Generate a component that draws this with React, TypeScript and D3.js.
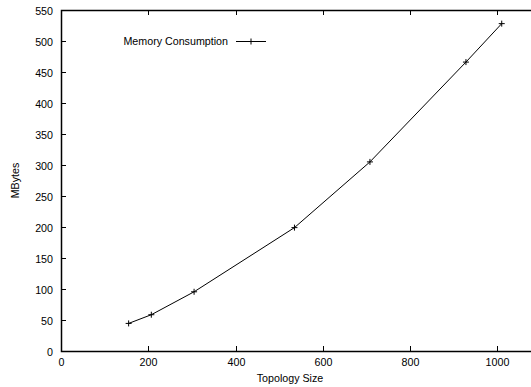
import React, { useEffect, useRef } from 'react';
import * as d3 from 'd3';

// data
const topologySizes = [155, 207, 305, 535, 708, 928, 1010];
const memoryMBytes = [44.5, 58.5, 95.5, 199, 305, 466, 528];
const xTicks = [0, 200, 400, 600, 800, 1000];
const yTicks = [0, 50, 100, 150, 200, 250, 300, 350, 400, 450, 500, 550];
const seriesName = "Memory Consumption";

const W = 531;
const H = 387;

export default function App() {
    const ref = useRef<SVGSVGElement>(null);

    useEffect(() => {
        if (!ref.current) return;
        const svg = d3.select(ref.current);
        svg.selectAll("*").remove();

        const left = 61, bottom = 351, top = 10;
        const x = d3.scaleLinear().domain([0, 1100]).range([left, left + 480]);
        const y = d3.scaleLinear().domain([0, 550]).range([bottom, top]);
        const font = "'Liberation Sans', Arial, sans-serif";
        const fs = "10.7px";
        const ink = "#000";

        const g = svg.append("g");

        // y ticks + labels
        yTicks.forEach(t => {
            const yy = Math.round(y(t)) + 0.5;
            g.append("line").attr("x1", left).attr("x2", left + 5)
                .attr("y1", yy).attr("y2", yy).attr("stroke", ink).attr("stroke-width", 1);
            g.append("text").attr("x", 53).attr("y", yy + 4)
                .attr("text-anchor", "end").style("font-family", font).style("font-size", fs)
                .attr("fill", ink).text(t);
        });

        // x ticks (bottom and mirrored on top) + labels
        xTicks.forEach(t => {
            const xx = Math.round(x(t)) + 0.5;
            if (t !== 0) {
                g.append("line").attr("x1", xx).attr("x2", xx)
                    .attr("y1", bottom).attr("y2", bottom - 5).attr("stroke", ink);
                g.append("line").attr("x1", xx).attr("x2", xx)
                    .attr("y1", top).attr("y2", top + 5).attr("stroke", ink);
            }
            g.append("text").attr("x", xx).attr("y", 366)
                .attr("text-anchor", "middle").style("font-family", font).style("font-size", fs)
                .attr("fill", ink).text(t);
        });

        // frame: left, bottom, top
        g.append("path")
            .attr("d", `M${x(1100)},${top + 0.5} L${left + 0.5},${top + 0.5} L${left + 0.5},${bottom + 0.5} L${x(1100)},${bottom + 0.5}`)
            .attr("fill", "none").attr("stroke", ink).attr("stroke-width", 1.5);

        // axis titles
        g.append("text").attr("x", 290).attr("y", 382).attr("text-anchor", "middle")
            .style("font-family", font).style("font-size", fs).attr("fill", ink).text("Topology Size");
        g.append("text").attr("transform", `translate(19,${(top + bottom) / 2}) rotate(-90)`)
            .attr("text-anchor", "middle").style("font-family", font).style("font-size", fs)
            .attr("fill", ink).text("MBytes");

        // series line
        const pts: [number, number][] = topologySizes.map((s, i) => [s, memoryMBytes[i]]);
        const line = d3.line<[number, number]>().x(d => x(d[0])).y(d => y(d[1]));
        g.append("path").attr("d", line(pts)!).attr("fill", "none")
            .attr("stroke", ink).attr("stroke-width", 1);

        const plus = (cx: number, cy: number) => {
            g.append("path").attr("d", `M${cx - 3},${cy} H${cx + 3} M${cx},${cy - 3} V${cy + 3}`)
                .attr("stroke", ink).attr("stroke-width", 1).attr("fill", "none");
        };
        pts.forEach(d => plus(x(d[0]), y(d[1])));

        // legend
        g.append("text").attr("x", 228).attr("y", 45).attr("text-anchor", "end")
            .style("font-family", font).style("font-size", fs).attr("fill", ink).text(seriesName);
        g.append("line").attr("x1", 236).attr("x2", 266).attr("y1", 41.5).attr("y2", 41.5)
            .attr("stroke", ink).attr("stroke-width", 1);
        plus(251, 41.5);
    }, []);

    return (
        <svg ref={ref} width={W} height={H}
            style={{ position: 'absolute', left: 0, top: 0, background: '#fff' }} />
    );
}
